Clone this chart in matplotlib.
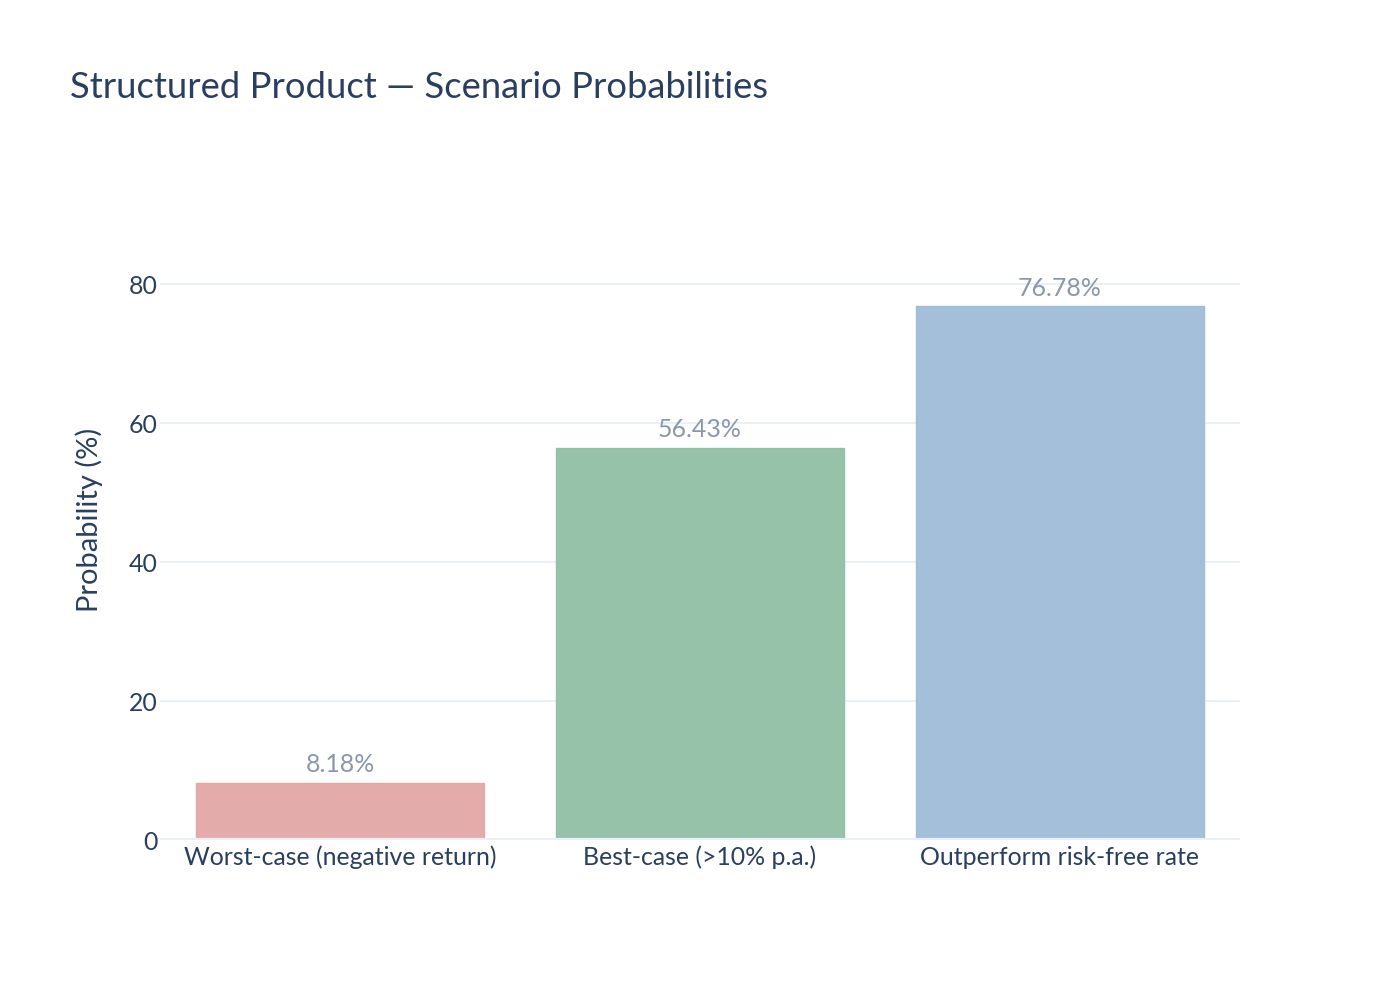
import matplotlib
matplotlib.use("Agg")
import matplotlib.pyplot as plt

categories = ["Worst-case (negative return)", "Best-case (>10% p.a.)", "Outperform risk-free rate"]
values = [8.18, 56.43, 76.78]
labels = ["8.18%", "56.43%", "76.78%"]
colors = ["#e3acab", "#97c2aa", "#a3bfd9"]
edge_colors = ["#e0a8a7", "#93bfa6", "#a0bcd6"]
yticks = [0, 20, 40, 60, 80]

plt.rcParams['font.family'] = ['Lato', 'DejaVu Sans']
text_col = "#2a3f5f"
grid_col = "#ebf0f8"

fig = plt.figure(figsize=(14, 10), dpi=100)
ax = fig.add_axes([160/1400, 160/1000, 1080/1400, 640/1000])
x = list(range(len(categories)))
ax.bar(x, values, width=0.8, color=colors, edgecolor=edge_colors, linewidth=1.0, zorder=3)
for xi, v, lab in zip(x, values, labels):
    ax.annotate(lab, (xi, v), xytext=(0, 5), textcoords="offset points",
                ha="center", va="bottom", fontsize=17.9, color="#8a97aa", zorder=4)

ax.set_xlim(-0.5, 2.5)
ax.set_ylim(0, 92.1)
ax.set_yticks(yticks)
ax.set_xticks(x)
ax.set_xticklabels(categories)
ax.tick_params(axis='both', length=0, labelsize=17.9, colors=text_col)
ax.tick_params(axis='y', pad=2)
ax.tick_params(axis='x', pad=4)
for t in yticks[1:]:
    ax.axhline(t, color=grid_col, linewidth=1.44, zorder=1)
ax.axhline(0, color=grid_col, linewidth=3.0, zorder=4)
for s in ax.spines.values():
    s.set_visible(False)
ax.set_ylabel("Probability (%)", fontsize=21, color=text_col, labelpad=18)

fig.text(70/1400, 1 - 88/1000, "Structured Product \u2014 Scenario Probabilities",
         fontsize=26.2, color=text_col, ha="left", va="center")

fig.savefig("out.png", dpi=100, facecolor="white")
